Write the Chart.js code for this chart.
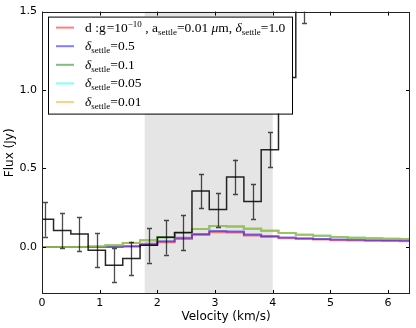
<!DOCTYPE html>
<html><head><meta charset="utf-8">
<script src="https://cdn.jsdelivr.net/npm/chart.js@4/dist/chart.umd.min.js"></script>
<style>html,body{margin:0;padding:0;background:#fff;}#wrap{width:416px;height:328px;position:relative;}</style>
</head><body><div id="wrap"><canvas id="c" width="416" height="328"></canvas></div>
<script>
// ---- data ----
const binWidth = 0.3;
const obsCenters = [0.05,0.35,0.65,0.95,1.25,1.55,1.85,2.15,2.45,2.75,3.05,3.35,3.65,3.95,4.25,4.55];
const obsFlux    = [0.177,0.105,0.082,-0.021,-0.116,-0.074,0.010,0.061,0.092,0.356,0.238,0.446,0.290,0.620,1.080,1.536];
const obsErr     = [0.111,0.110,0.107,0.108,0.110,0.108,0.110,0.110,0.110,0.110,0.108,0.111,0.110,0.110,0.110,0.110];
const modelCenters = [0.05,0.35,0.65,0.95,1.25,1.55,1.85,2.15,2.45,2.75,3.05,3.35,3.65,3.95,4.25,4.55,4.85,5.15,5.45,5.75,6.05,6.35];
const modelDG    = [0,0,0,0,0,0.002,0.013,0.030,0.051,0.076,0.094,0.092,0.073,0.064,0.056,0.051,0.047,0.043,0.041,0.039,0.038,0.037];
const modelS05   = [0,0,0,0,0.001,0.005,0.020,0.036,0.058,0.083,0.101,0.098,0.079,0.069,0.060,0.055,0.051,0.047,0.045,0.043,0.042,0.041];
const modelS01   = [0,0,0,0.002,0.010,0.025,0.042,0.061,0.089,0.114,0.133,0.131,0.116,0.103,0.089,0.078,0.072,0.063,0.059,0.055,0.052,0.050];
const modelS005  = [0,0,0,0.002,0.010,0.025,0.042,0.061,0.089,0.114,0.133,0.131,0.116,0.103,0.089,0.078,0.072,0.063,0.059,0.055,0.052,0.050];
const modelS001  = [0,0,0,0.002,0.010,0.025,0.042,0.061,0.089,0.114,0.133,0.131,0.116,0.103,0.089,0.078,0.072,0.063,0.059,0.055,0.052,0.050];
const xTicks = [0,1,2,3,4,5,6];
const yTicks = [0,0.5,1.0,1.5];
const shadeRange = [1.78,4.0];

function steps(centers, vals){
  const pts = centers.map((c,i)=>({x:c-binWidth/2, y:vals[i]}));
  pts.push({x:centers[centers.length-1]+binWidth/2, y:vals[vals.length-1]});
  return pts;
}

const SERIF = '"Liberation Serif","DejaVu Serif",serif';
const M = 13.5, S = 9;
const legendRows = [
  {color:'rgba(255,0,0,0.5)', segs:[
    {t:'d',s:M},{t:' :',s:M},{t:'g',s:M},{t:'=',s:M,pl:1},{t:'10',s:M},{t:'\u221210',s:S,dy:-5},
    {t:' , ',s:M},{t:'a',s:M},{t:'settle',s:S,dy:3},{t:'=',s:M},{t:'0.01 ',s:M},{t:'\u03bc',s:M,it:1},{t:'m, ',s:M},
    {t:'\u03b4',s:M,it:1},{t:'settle',s:S,dy:3},{t:'=',s:M},{t:'1.0',s:M}]},
  {color:'rgba(0,0,255,0.5)', segs:[{t:'\u03b4',s:M,it:1},{t:'settle',s:S,dy:3},{t:'=',s:M},{t:'0.5',s:M}]},
  {color:'rgba(0,128,0,0.5)', segs:[{t:'\u03b4',s:M,it:1},{t:'settle',s:S,dy:3},{t:'=',s:M},{t:'0.1',s:M}]},
  {color:'rgba(0,255,255,0.5)', segs:[{t:'\u03b4',s:M,it:1},{t:'settle',s:S,dy:3},{t:'=',s:M},{t:'0.05',s:M}]},
  {color:'rgba(255,165,0,0.5)', segs:[{t:'\u03b4',s:M,it:1},{t:'settle',s:S,dy:3},{t:'=',s:M},{t:'0.01',s:M}]}
];

const decor = {
  id:'decor',
  beforeDatasetsDraw(chart){
    const {ctx, chartArea:a, scales:{x}} = chart;
    ctx.save();
    ctx.fillStyle = '#e5e5e5';
    const x0 = x.getPixelForValue(shadeRange[0]), x1 = x.getPixelForValue(shadeRange[1]);
    ctx.fillRect(x0, a.top, x1-x0, a.bottom-a.top);
    ctx.restore();
  },
  afterDatasetsDraw(chart){
    const {ctx, chartArea:a, scales:{x,y}} = chart;
    ctx.save();
    ctx.beginPath(); ctx.rect(a.left,a.top,a.right-a.left,a.bottom-a.top); ctx.clip();
    ctx.strokeStyle = 'rgba(0,0,0,0.7)'; ctx.lineWidth = 1.3;
    obsCenters.forEach((c,i)=>{
      const px = Math.round(x.getPixelForValue(c))+0.5;
      const yt = y.getPixelForValue(obsFlux[i]+obsErr[i]);
      const yb = y.getPixelForValue(obsFlux[i]-obsErr[i]);
      ctx.beginPath();
      ctx.moveTo(px,yt); ctx.lineTo(px,yb);
      ctx.moveTo(px-2.5,Math.round(yt)+0.5); ctx.lineTo(px+2.5,Math.round(yt)+0.5);
      ctx.moveTo(px-2.5,Math.round(yb)+0.5); ctx.lineTo(px+2.5,Math.round(yb)+0.5);
      ctx.stroke();
    });
    ctx.restore();
    ctx.save();
    ctx.strokeStyle = '#000'; ctx.lineWidth = 1;
    ctx.beginPath();
    xTicks.forEach(v=>{
      const px = Math.round(x.getPixelForValue(v))+0.5;
      ctx.moveTo(px,a.bottom); ctx.lineTo(px,a.bottom-4);
      ctx.moveTo(px,a.top); ctx.lineTo(px,a.top+4);
    });
    yTicks.forEach(v=>{
      const py = Math.round(y.getPixelForValue(v))+0.5;
      ctx.moveTo(a.left,py); ctx.lineTo(a.left+4,py);
      ctx.moveTo(a.right,py); ctx.lineTo(a.right-4,py);
    });
    ctx.stroke();
    ctx.strokeStyle = '#222';
    ctx.strokeRect(Math.round(a.left)+0.5, Math.round(a.top)+0.5, Math.round(a.right-a.left)-1, Math.round(a.bottom-a.top)-1);
    // legend
    const lx = a.left+6, ly = a.top+5, lw = 244, lh = 97;
    ctx.fillStyle = '#fff'; ctx.fillRect(lx, ly, lw, lh);
    ctx.strokeStyle = '#000'; ctx.strokeRect(lx+0.5, ly+0.5, lw, lh);
    legendRows.forEach((r,i)=>{
      const cy = ly + 11 + i*18.6;
      ctx.strokeStyle = r.color; ctx.lineWidth = 2;
      ctx.beginPath(); ctx.moveTo(lx+8, cy); ctx.lineTo(lx+26, cy); ctx.stroke();
      let tx = lx+37;
      ctx.fillStyle = '#000'; ctx.textBaseline = 'alphabetic';
      r.segs.forEach(s=>{
        ctx.font = (s.it?'italic ':'') + s.s + 'px ' + SERIF;
        tx += (s.pl||0);
        ctx.fillText(s.t, tx, cy+4+(s.dy||0));
        tx += ctx.measureText(s.t).width;
      });
    });
    ctx.restore();
  }
};

const modelStyle = (c)=>({borderColor:c, borderWidth:2, pointRadius:0, stepped:'before', fill:false});

new Chart(document.getElementById('c'), {
  type:'line',
  data:{datasets:[
    Object.assign({label:'d:g=1e-10, a_settle=0.01 um, delta_settle=1.0', data:steps(modelCenters,modelDG), order:6}, modelStyle('rgba(255,0,0,0.5)')),
    Object.assign({label:'delta_settle=0.5', data:steps(modelCenters,modelS05), order:5}, modelStyle('rgba(0,0,255,0.5)')),
    Object.assign({label:'delta_settle=0.1', data:steps(modelCenters,modelS01), order:4}, modelStyle('rgba(0,128,0,0.5)')),
    Object.assign({label:'delta_settle=0.05', data:steps(modelCenters,modelS005), order:3}, modelStyle('rgba(0,255,255,0.5)')),
    Object.assign({label:'delta_settle=0.01', data:steps(modelCenters,modelS001), order:2}, modelStyle('rgba(255,165,0,0.5)')),
    {label:'observed', data:steps(obsCenters,obsFlux), order:1, borderColor:'rgba(0,0,0,0.85)', borderWidth:1.5, pointRadius:0, stepped:'before', fill:false}
  ]},
  options:{
    responsive:false, animation:false, devicePixelRatio:1,
    layout:{padding:{top:10,right:6,left:0,bottom:0}},
    plugins:{legend:{display:false}, tooltip:{enabled:false}},
    scales:{
      x:{type:'linear', min:0, max:6.38,
        afterBuildTicks:s=>{s.ticks = xTicks.map(v=>({value:v}));},
        afterFit:s=>{s.height = 34;},
        grid:{display:false, drawTicks:false}, border:{display:false},
        ticks:{color:'#000', font:{family:'"DejaVu Sans"', size:11}, padding:3, maxRotation:0, autoSkip:false, callback:v=>String(v)},
        title:{display:true, text:'Velocity (km/s)', color:'#000', font:{family:'"DejaVu Sans"', size:12}, padding:{top:0,bottom:4}}
      },
      y:{type:'linear', min:-0.3, max:1.5,
        afterBuildTicks:s=>{s.ticks = yTicks.map(v=>({value:v}));},
        afterFit:s=>{s.width = 42;},
        grid:{display:false, drawTicks:false}, border:{display:false},
        ticks:{color:'#000', font:{family:'"DejaVu Sans"', size:11}, padding:5, callback:v=>v.toFixed(1)},
        title:{display:true, text:'Flux (Jy)', color:'#000', font:{family:'"DejaVu Sans"', size:12}, padding:{top:3,bottom:0}}
      }
    }
  },
  plugins:[decor]
});
</script></body></html>
